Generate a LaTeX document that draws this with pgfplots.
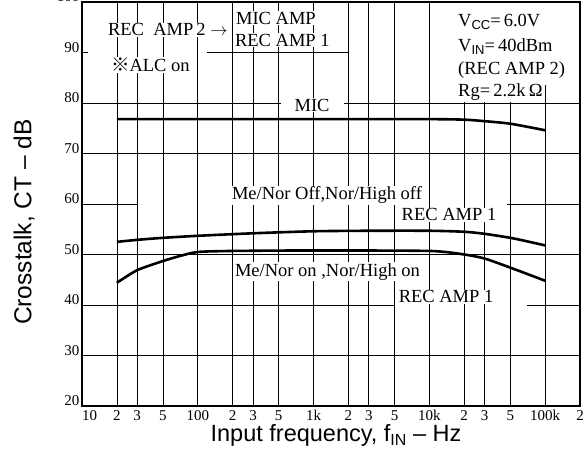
\documentclass[border=0pt]{standalone}
\usepackage{fontspec}
\setmainfont{Liberation Serif}
\setsansfont{Liberation Sans}
\newfontfamily\cjk{Noto Sans CJK JP}
\usepackage{pgfplots}
\pgfplotsset{compat=1.18}
\newcommand\sub[1]{\raisebox{-0.35ex}{\fontsize{13}{13}\selectfont\sffamily #1}}
\newcommand\anno{\fontsize{18.5}{20}\selectfont}

\pgfplotstableread{
x y
20 76.8
50 76.8
100 76.8
1000 76.8
10000 76.8
20000 76.7
30000 76.4
50000 75.9
100000 74.6
}\mic

\pgfplotstableread{
x y
20 52.5
30 52.9
50 53.3
100 53.7
300 54.2
1000 54.6
3000 54.7
10000 54.7
20000 54.5
30000 54.1
50000 53.3
70000 52.6
100000 51.8
}\recoff

\pgfplotstableread{
x y
20 44.4
30 46.9
50 48.7
70 49.7
100 50.5
200 50.7
1000 50.8
10000 50.7
20000 50.0
30000 49.2
50000 47.4
100000 44.8
}\recon

\begin{document}
\begin{tikzpicture}
\begin{axis}[
  name=ax,
  scale only axis, width=498pt, height=404pt,
  xmode=log, log basis x=10,
  xmin=10, xmax=200000, ymin=20, ymax=100,
  xtick={10,20,30,50,100,200,300,500,1000,2000,3000,5000,10000,20000,30000,50000,100000,200000},
  xticklabels={\makebox[0pt][l]{10},2,3,5,100,2,3,5,1k,2,3,5,10k,2,3,5,100k,2},
  ytick={20,30,40,50,60,70,80,90,100},
  xminorgrids=false, yminorgrids=false,
  xmajorgrids, ymajorgrids=false,
  major tick length=0pt, minor tick length=0pt,
  grid style={black, line width=0.7pt},
  axis line style={line width=1.3pt},
  ticklabel style={font=\fontsize{15}{15}\selectfont},
  /pgf/number format/assume math mode=true,
  yticklabel style={yshift=5pt, xshift=1pt},
  xticklabel style={inner sep=2pt, yshift=-2pt},
  xlabel={Input frequency, f\raisebox{-0.3ex}{\fontsize{16}{16}\selectfont IN} -- Hz},
  ylabel={Crosstalk, CT -- dB},
  xlabel style={font=\fontsize{23.5}{24}\selectfont\sffamily, at={(axis description cs:0.510,-0.089)}, anchor=base, inner sep=0pt},
  ylabel style={font=\fontsize{24.5}{26}\selectfont\sffamily, at={(axis description cs:-0.1165,0.455)}, anchor=center},
  clip=false,
]
% horizontal grid lines
\draw[black, line width=0.7pt] (axis cs:10,30) -- (axis cs:200000,30);
\draw[black, line width=0.7pt] (axis cs:10,40) -- (axis cs:5000,40);
\draw[black, line width=0.7pt] (axis cs:70000,40) -- (axis cs:200000,40);
\draw[black, line width=0.7pt] (axis cs:10,50) -- (axis cs:200000,50);
\draw[black, line width=0.7pt] (axis cs:10,60) -- (axis cs:30,60);
\draw[black, line width=0.7pt] (axis cs:47000,60) -- (axis cs:200000,60);
\draw[black, line width=0.7pt] (axis cs:10,70) -- (axis cs:200000,70);
\draw[black, line width=0.7pt] (axis cs:10,80) -- (axis cs:200000,80);
\draw[black, line width=0.7pt] (axis cs:120,90) -- (axis cs:2000,90);
\draw[black, line width=0.7pt] (axis cs:10,90) -- (axis cs:11.2,90);
\draw[black, line width=0.7pt] (axis cs:180000,90) -- (axis cs:200000,90);
% white box top right
\fill[white] (rel axis cs:0.729,0.795) rectangle (rel axis cs:0.997,0.997);

\addplot[black, line width=2.6pt, smooth, tension=0.4] table[x=x,y=y] {\mic};
\addplot[black, line width=2.6pt, smooth, tension=0.4] table[x=x,y=y] {\recoff};
\addplot[black, line width=2.6pt, smooth, tension=0.4] table[x=x,y=y] {\recon};

\draw[line width=2pt] (rel axis cs:0,0) -- (rel axis cs:0,1);
\draw[line width=2.4pt] (rel axis cs:0,0) -- (rel axis cs:1,0);

\begin{scope}[every node/.style={font=\anno, fill=white, inner sep=1pt}]
\node[anchor=west] at (rel axis cs:0.050,0.931) {REC\ \ AMP\,2 $\rightarrow$};
\node[anchor=west] at (rel axis cs:0.307,0.960) {MIC AMP};
\node[anchor=west] at (rel axis cs:0.305,0.906) {REC AMP 1};
\node[anchor=west] at (rel axis cs:0.056,0.844) {{\cjk ※}ALC on};
\node[anchor=west] at (rel axis cs:0.753,0.950) {V\sub{CC}=\,6.0V};
\node[anchor=west] at (rel axis cs:0.753,0.889) {V\sub{IN}=\,40dBm};
\node[anchor=west] at (rel axis cs:0.753,0.832) {(REC AMP 2)};
\node[anchor=west] at (rel axis cs:0.753,0.777) {Rg=\,2.2k\,Ω};
\node[inner xsep=14pt] at (rel axis cs:0.462,0.745) {MIC};
\node at (rel axis cs:0.492,0.522) {Me/Nor Off,Nor/High off};
\node at (rel axis cs:0.737,0.473) {REC AMP 1};
\node at (rel axis cs:0.493,0.332) {Me/Nor on ,Nor/High on};
\node at (rel axis cs:0.731,0.270) {REC AMP 1};
\end{scope}
\end{axis}
\pgfresetboundingbox
\path (ax.south west) ++(-82pt,-44pt) rectangle ([shift={(5pt,2pt)}]ax.north east);
\end{tikzpicture}
\end{document}
